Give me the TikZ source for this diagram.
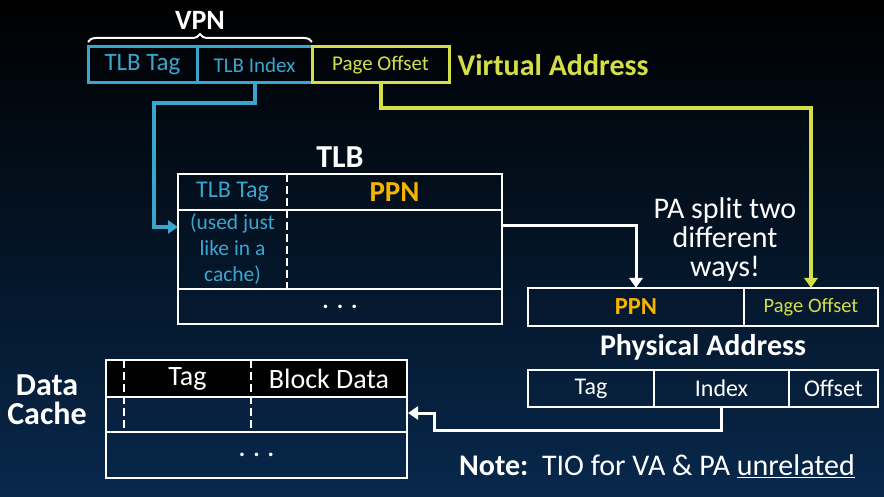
\documentclass[tikz,border=0pt]{standalone}
\usepackage{fontspec}
\setmainfont{Carlito}
\usetikzlibrary{positioning, arrows.meta, decorations.pathreplacing, calc}

\definecolor{vablue}{RGB}{58,166,206}
\definecolor{vayellow}{RGB}{212,222,72}
\definecolor{ppnorange}{RGB}{245,180,0}
\definecolor{navybg}{RGB}{8,40,76}

\newcommand{\fs}[1]{\fontsize{#1}{#1}\selectfont}

\begin{document}
\begin{tikzpicture}[x=1pt, y=-1pt,
  cell/.style={draw=white, line width=2.5pt, anchor=north west, inner sep=0pt, outer sep=0pt,
               text=white, font=\fs{24}},
  vacell/.style={cell, draw=vablue, text=vablue, minimum height=36pt, line width=3pt},
  txtcell/.style={anchor=north west, inner sep=0pt, outer sep=0pt, text=white, font=\fs{24}},
  frame/.style={draw=white, line width=2.5pt},
  divider/.style={frame, line width=2pt, dash pattern=on 8pt off 4pt},
  title/.style={text=white, font=\fs{30}\bfseries},
  wire/.style={line width=3pt, -{Triangle[length=10pt, width=13pt]}},
]
\useasboundingbox (0,0) rectangle (884,497);
\shade[top color=black, middle color=black, bottom color=navybg] (0,0) rectangle (884,497);

% Virtual address
\node[vacell, minimum width=109pt, font=\fs{25}] (vatag) at (88,47) {TLB Tag};
\node[vacell, minimum width=115pt, font=\fs{21}, right=0pt of vatag] (vaidx) {TLB Index};
\node[vacell, draw=vayellow, text=vayellow, minimum width=137pt, font=\fs{21},
      right=0pt of vaidx] (vapo) {Page Offset};
\node[title, text=vayellow, right=5pt of vapo] (valbl) {Virtual Address};
\draw[white, line width=2pt, decorate, decoration={brace, amplitude=8pt}]
  ([yshift=5pt]vatag.north west) -- ([yshift=5pt]vaidx.north east)
  node[title, font=\fs{28}\bfseries, midway, above=8pt] (vpn) {VPN};

% TLB
\node[txtcell, minimum width=109pt, minimum height=36pt, text=vablue] (tlbtag) at (178,174) {TLB Tag};
\node[txtcell, minimum width=215pt, minimum height=36pt, text=ppnorange, font=\fs{29}\bfseries,
      right=0pt of tlbtag] (tlbppn) {PPN};
\node[txtcell, minimum width=109pt, minimum height=79pt, text=vablue, font=\fontsize{21.5}{26}\selectfont,
      align=center, below=0pt of tlbtag] (tlbnote) {(used just\\like in a\\cache)};
\node[txtcell, minimum width=215pt, minimum height=79pt, right=0pt of tlbnote] (tlbdata) {};
\node[txtcell, minimum width=324pt, minimum height=35pt, font=\fs{24}\bfseries,
      below=0pt of tlbnote.south west, anchor=north west] (tlbmore) {.\hspace{8pt}.\hspace{8pt}.};
\node[title, font=\fs{32}\bfseries, anchor=base] (tlbtitle)
  at ($(tlbtag.north west)!0.5!(tlbppn.north east) + (0,-6)$) {TLB};
\draw[frame] (tlbtag.north west) rectangle (tlbmore.south east);
\draw[frame] (tlbtag.south west) -- (tlbppn.south east);
\draw[frame] (tlbnote.south west) -- (tlbdata.south east);
\draw[divider] (tlbtag.north east) -- (tlbnote.south east);

% Physical address
\node[cell, minimum width=216pt, minimum height=38pt, text=ppnorange, font=\fs{24.5}\bfseries] (pappn) at (528,288) {PPN};
\node[cell, minimum width=134pt, minimum height=38pt, text=vayellow, font=\fs{20.5},
      right=0pt of pappn] (papo) {Page Offset};
\node[title] (palbl) at ($(pappn.south west)!0.5!(papo.south east) + (0,21)$) {Physical Address};
\node[text=white, font=\fontsize{30}{29}\selectfont, align=center] (pasplit) at (725,240)
  {PA split two\\different\\ways!};
\node[cell, minimum width=126pt, minimum height=37pt] (patag) at (528,370) {Tag};
\node[cell, minimum width=135pt, minimum height=37pt, right=0pt of patag] (paidx) {Index};
\node[cell, minimum width=89pt, minimum height=37pt, right=0pt of paidx] (paoff) {Offset};

% Data cache
\node[txtcell, fill=black, minimum width=18pt, minimum height=37pt] (dcv) at (106,360) {};
\node[txtcell, fill=black, minimum width=127pt, minimum height=37pt, font=\fs{28},
      right=0pt of dcv] (dctag) {Tag};
\node[txtcell, fill=black, minimum width=156pt, minimum height=37pt, font=\fs{28},
      right=0pt of dctag] (dcdata) {Block Data};
\node[txtcell, minimum width=18pt, minimum height=35pt, below=0pt of dcv] (dcv2) {};
\node[txtcell, minimum width=127pt, minimum height=35pt, right=0pt of dcv2] (dctag2) {};
\node[txtcell, minimum width=156pt, minimum height=35pt, right=0pt of dctag2] (dcdata2) {};
\node[txtcell, minimum width=301pt, minimum height=46pt, font=\fs{24}\bfseries,
      below=0pt of dcv2.south west, anchor=north west] (dcmore) {.\hspace{8pt}.\hspace{8pt}.};
\draw[frame] (dcv.north west) rectangle (dcmore.south east);
\draw[frame] (dcv.south west) -- (dcdata.south east);
\draw[frame] (dcv2.south west) -- (dcdata2.south east);
\draw[divider] (dcv.north east) -- (dcv2.south east);
\draw[divider] (dctag.north east) -- (dctag2.south east);
\node[title, font=\fontsize{32}{29}\selectfont\bfseries, align=center] (dclbl) at (47,400) {Data\\Cache};

% Note
\node[text=white, font=\fs{30}] (note) at (657,466) {\textbf{Note:}\ \ TIO for VA \& PA \underline{unrelated}};

% Arrows
\coordinate (tlbin) at (178,227);
\coordinate (tlbout) at (502,226);
\coordinate (dcin) at (408,413);
\draw[wire, vablue, line width=4pt] (vaidx.south) |- (154,103) |- (tlbin);
\draw[wire, vayellow, line width=4pt] (vapo.south) -- ++(0,25) -| (papo.north);
\draw[wire, white] (tlbout) -| (pappn.north);
\draw[wire, white] (paidx.south) |- (434,430) |- (dcin);

\end{tikzpicture}
\end{document}
